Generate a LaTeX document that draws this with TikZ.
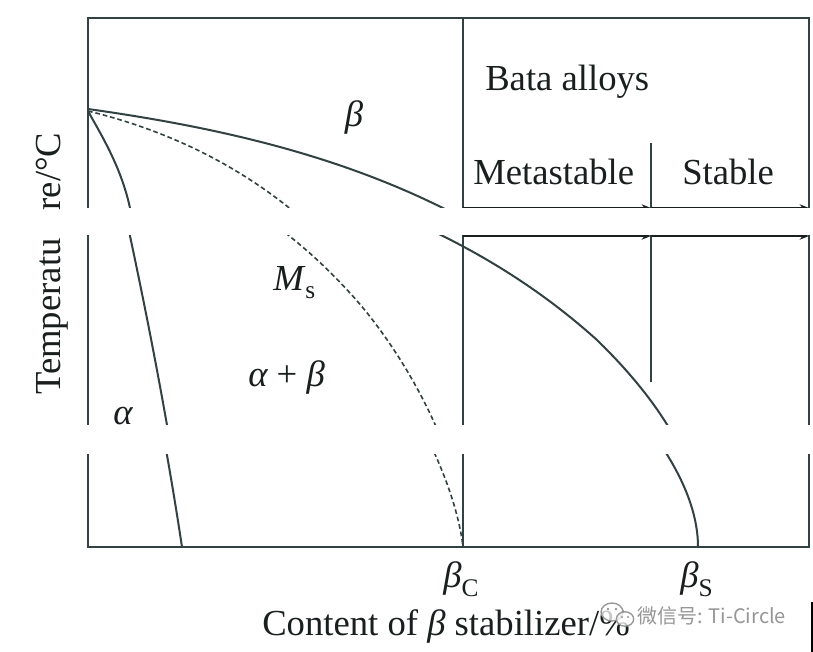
\documentclass[tikz,border=0pt]{standalone}
\usepackage{fontspec}
\setmainfont{Liberation Serif}
\newfontfamily\cjkfont{Noto Sans CJK SC}
\usetikzlibrary{arrows.meta}
\definecolor{lc}{RGB}{50,65,65}
\definecolor{tc}{RGB}{25,30,30}
\definecolor{wm}{RGB}{150,150,150}
\begin{document}
\begin{tikzpicture}[x=0.75pt,y=-0.75pt,
  frame/.style={draw=lc,line width=1.6pt},
  curve/.style={draw=lc,line width=1.5pt},
  dcurve/.style={draw=lc,line width=1.2pt,dash pattern=on 3.5pt off 2.2pt},
  arr/.style={draw=tc,line width=2pt,-{Stealth[length=7pt,width=5.5pt]}},
  lbl/.style={text=tc,font=\fontsize{27.5}{32}\selectfont,inner sep=0pt},
  wmark/.style={text=wm,font=\cjkfont\fontsize{15}{15}\selectfont,inner sep=0pt}]
\useasboundingbox (0,0) rectangle (813,652);
\fill[white] (0,0) rectangle (813,652);
% diagram drawn in continuous coordinates, split by the two blank bands
\foreach \lo/\hi/\sh in {-20/208/0, 208/396/28, 396/700/58}{
  \begin{scope}[shift={(0,\sh)}]
    \clip (-10,\lo) rectangle (830,\hi);
    \coordinate (TL) at (88,18); \coordinate (BR) at (809,489);
    \coordinate (C0) at (463,18); \coordinate (C1) at (463,489);
    \coordinate (D0) at (651,143); \coordinate (D1) at (651,354);
    \coordinate (A0) at (463,208); \coordinate (A1) at (651,208); \coordinate (A2) at (809,208);
    \coordinate (O1) at (88,109); \coordinate (O2) at (88,111);
    \coordinate (BS) at (698,489); \coordinate (BC) at (463,489); \coordinate (AB) at (182,489);
    \draw[frame] (TL) rectangle (BR);
    \draw[frame] (C0) -- (C1);
    \draw[frame] (D0) -- (D1);
    \draw[arr] (A0) -- (A1);
    \draw[arr] (A1) -- (A2);
    % beta transus
    \draw[curve] (O1) .. controls (258,133) and (447,177) .. (597,312)
                      .. controls (634,348) and (698,419) .. (BS);
    % Ms line
    \draw[dcurve] (O2) .. controls (178,133) and (270,177) .. (350,265)
                       .. controls (405,325) and (455,420) .. (BC);
    % alpha / alpha+beta boundary
    \draw[curve] (O2) .. controls (100,133) and (121,166) .. (130,208)
                      .. controls (150,302) and (168,396) .. (AB);
  \end{scope}
}
% labels
\node[lbl,anchor=base west] (bata) at (485,91) {Bata alloys};
\node[lbl,anchor=base west] (meta) at (473,185) {Metastable};
\node[lbl,anchor=base west] (stab) at (682,185) {Stable};
\node[lbl] (beta) at (354,117) {\itshape β};
\node[lbl,anchor=base west] (ms) at (273,290) {\itshape M\/\upshape\raisebox{-6pt}{\fontsize{19}{19}\selectfont s}};
\node[lbl,anchor=base west] (ab) at (248,386) {\itshape α\upshape{} + \itshape β};
\node[lbl,anchor=base west] (alpha) at (113,424) {\itshape α};
\node[lbl,anchor=base west] (bc) at (443,587) {\itshape β\upshape\raisebox{-7pt}{\fontsize{19}{19}\selectfont C}};
\node[lbl,anchor=base west] (bs) at (680,587) {\itshape β\upshape\raisebox{-7pt}{\fontsize{19}{19}\selectfont S}};
\node[lbl,anchor=base west] (xlab) at (262,635) {Content of \itshape β\upshape{} stabilizer/\%};
\node[lbl,rotate=90,anchor=base west] (ylab) at (60,395) {Temperatu\hspace{21pt}re/°C};
% watermark
\path[draw=wm,fill=white,fill opacity=0.75,line width=1pt] (612,612) ellipse [x radius=8.25pt,y radius=6.75pt];
\path[draw=wm,fill=white,fill opacity=0.75,line width=1pt] (625,619) ellipse [x radius=6.5pt,y radius=5.4pt];
\fill[wm] (608,609) circle [radius=1pt] (616,609) circle [radius=1pt];
\fill[wm] (622,617) circle [radius=0.8pt] (628,617) circle [radius=0.8pt];
\node[wmark,anchor=base west] (wmk) at (637,623) {微信号: Ti-Circle};
\coordinate (E0) at (812,602); \coordinate (E1) at (812,652);
\draw[black,line width=2pt] (E0) -- (E1);
\end{tikzpicture}
\end{document}
